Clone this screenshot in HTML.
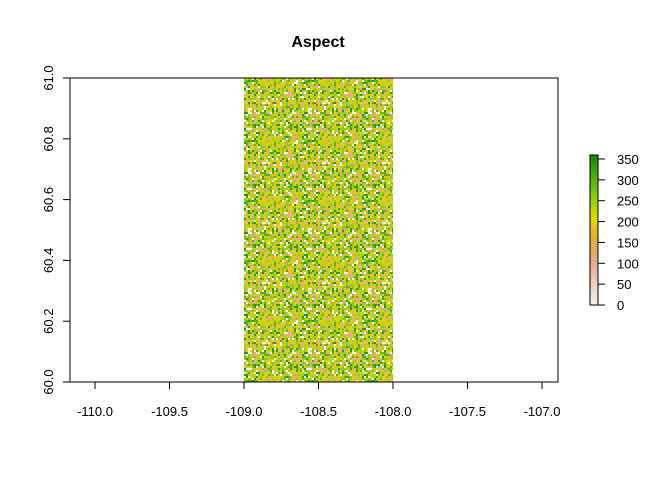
<!DOCTYPE html>
<html><head><meta charset="utf-8"><style>
body{margin:0;background:#fff}
svg text{font-family:"Liberation Sans",Arial,sans-serif;fill:#000}
</style></head><body>
<svg id="chart" width="672" height="480">
<defs>
<linearGradient id="lg" x1="0" y1="1" x2="0" y2="0">
<stop offset="0" stop-color="#f2f2f2"/><stop offset="0.28" stop-color="#e6a890"/>
<stop offset="0.45" stop-color="#e0b030"/><stop offset="0.57" stop-color="#e2dc00"/>
<stop offset="0.75" stop-color="#7ac810"/><stop offset="1" stop-color="#0a8a00"/>
</linearGradient>
<pattern id="tex" width="60" height="60" patternUnits="userSpaceOnUse"><g id="tile"></g></pattern>
</defs>
<text x="318" y="47" font-size="16" font-weight="bold" text-anchor="middle">Aspect</text>
<rect id="raster" fill="url(#tex)"/>
<rect x="70" y="78" width="488" height="304" fill="none" stroke="#000" stroke-width="1"/>
<g id="xaxis"></g>
<g id="yaxis"></g>
<rect x="590" y="155" width="8" height="150" fill="url(#lg)" stroke="#000" stroke-width="1"/>
<g id="legend"></g>
</svg>
<script>
const xTicks=[-110,-109.5,-109,-108.5,-108,-107.5,-107];
const yTicks=[60,60.2,60.4,60.6,60.8,61];
const rasterExtent=[-109,-108,60,61];
const legendTicks=[0,50,100,150,200,250,300,350];
const palette=["#2a9e08","#8cc41a","#d6d800","#b8d010","#e2b850","#eaa898","#f2f2f2","#5cb010","#c8d400","#a0c818","#dcd020"];
const NS="http://www.w3.org/2000/svg";
const sx=v=>95+(v+110)*149;
const sy=v=>382-(v-60)*304;
const ly=v=>305-v*146/350;
function mk(t,a,p){const e=document.createElementNS(NS,t);for(const k in a)e.setAttribute(k,a[k]);p.appendChild(e);return e;}
const tile=document.getElementById('tile');
for(let i=0;i<30;i++)for(let j=0;j<30;j++){
  const h=((i*73856093)^(j*19349663))>>>0;
  const idx=((h>>3)+i*j)%palette.length;
  const c=mk('rect',{x:i*2,y:j*2,width:2,height:2,fill:palette[idx]},tile);
  
  
}
const r=document.getElementById('raster');
r.setAttribute('x',sx(rasterExtent[0]));r.setAttribute('width',sx(rasterExtent[1])-sx(rasterExtent[0]));
r.setAttribute('y',sy(rasterExtent[3]));r.setAttribute('height',sy(rasterExtent[2])-sy(rasterExtent[3]));
const xa=document.getElementById('xaxis');
mk('line',{x1:sx(xTicks[0]),x2:sx(xTicks[xTicks.length-1]),y1:382,y2:382,stroke:'#000'},xa);
xTicks.forEach(v=>{
  const l=mk('line',{x1:sx(v),x2:sx(v),y1:382,y2:389,stroke:'#000'},xa);
  
  
  const t=mk('text',{x:sx(v),y:416,'font-size':13,'text-anchor':'middle'},xa);
  t.textContent=v.toFixed(1);
  
  
});
const ya=document.getElementById('yaxis');
mk('line',{x1:70,x2:70,y1:sy(60),y2:sy(61),stroke:'#000'},ya);
yTicks.forEach(v=>{
  const l=mk('line',{x1:63,x2:70,y1:sy(v),y2:sy(v),stroke:'#000'},ya);
  
  
  const t=mk('text',{x:53,y:sy(v),'font-size':13,'text-anchor':'middle',transform:`rotate(-90 53 ${sy(v)})`},ya);
  t.textContent=v.toFixed(1);
  
  
});
const lg=document.getElementById('legend');
legendTicks.forEach(v=>{
  const l=mk('line',{x1:598,x2:605,y1:ly(v),y2:ly(v),stroke:'#000'},lg);
  
  
  const t=mk('text',{x:617,y:ly(v)+5,'font-size':13},lg);
  t.textContent=v;
  
  
});
</script>
</body></html>
